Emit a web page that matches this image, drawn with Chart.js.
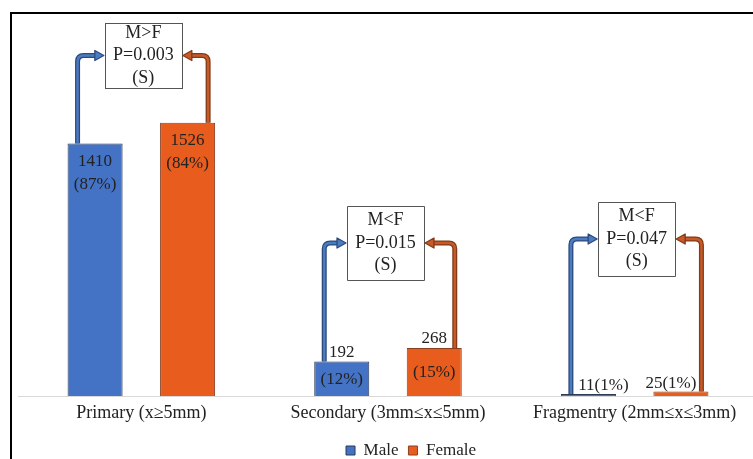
<!DOCTYPE html>
<html>
<head>
<meta charset="utf-8">
<script src="https://cdn.jsdelivr.net/npm/chart.js@4.4.1/dist/chart.umd.min.js"></script>
<style>
  html, body { margin:0; padding:0; background:#fff; overflow:hidden; }
  #wrap { width:753px; height:459px; overflow:hidden; }
</style>
</head>
<body>
<div id="wrap"><canvas id="c" width="760" height="469"></canvas></div>
<script>
// ---- data ----
const categories = ["Primary (x\u22655mm)", "Secondary (3mm\u2264x\u22645mm)", "Fragmentry (2mm\u2264x\u22643mm)"];
const maleCounts = [1410, 192, 11];
const femaleCounts = [1526, 268, 25];
const malePct = [87, 12, 1];
const femalePct = [84, 15, 1];
const compareText = ["M>F", "M<F", "M<F"];
const pValues = ["P=0.003", "P=0.015", "P=0.047"];
const sigText = ["(S)", "(S)", "(S)"];

// ---- layout / style (not data) ----
const SERIF = "'Liberation Serif', 'DejaVu Serif', serif";
const TEXT = "#222222";
const MALE_FILL = "#4472C4", MALE_EDGE = "#2B3A55";
const FEMALE_FILL = "#E85C1D", FEMALE_EDGE = "#8A4020";
const ARROW = [
  { light: "#4A7CC4", dark: "#2E4A7A" },
  { light: "#C85A28", dark: "#7F3B1A" }
];
const boxLayout = [
  { dx: 2,    top: 23,  w: 77, h: 65 },
  { dx: -2.5, top: 206, w: 77, h: 74 },
  { dx: 2,    top: 202, w: 77, h: 74 }
];
const labelMode = ["inside", "split", "combined"];
const arrowInset = [10, 7]; // male: from left edge, female: from right edge
const LEGEND_SHIFT = 23;

const overlay = {
  id: "overlay",
  afterLayout(chart) {
    if (chart.legend) {
      chart.legend.left += LEGEND_SHIFT;
      chart.legend.right += LEGEND_SHIFT;
    }
  },
  beforeDraw(chart) {
    const ctx = chart.ctx;
    ctx.save();
    ctx.fillStyle = "#fff";
    ctx.fillRect(0, 0, chart.width, chart.height);
    ctx.strokeStyle = "#000";
    ctx.lineWidth = 2;
    ctx.beginPath();
    ctx.moveTo(11, chart.height);
    ctx.lineTo(11, 13);
    ctx.lineTo(chart.width, 13);
    ctx.stroke();
    ctx.restore();
  },
  afterDatasetsDraw(chart) {
    const ctx = chart.ctx;
    const xs = chart.scales.x;
    const mMeta = chart.getDatasetMeta(0).data;
    const fMeta = chart.getDatasetMeta(1).data;
    ctx.save();
    // value labels
    ctx.fillStyle = TEXT;
    ctx.font = "17px " + SERIF;
    ctx.textAlign = "center";
    ctx.textBaseline = "middle";
    const sets = [[mMeta, maleCounts, malePct, 15], [fMeta, femaleCounts, femalePct, -10]];
    for (let i = 0; i < categories.length; i++) {
      sets.forEach(([meta, vals, pcts, cdx]) => {
        const bar = meta[i];
        const base = bar.base;
        if (labelMode[i] === "inside") {
          ctx.fillText(String(vals[i]), bar.x, bar.y + 18);
          ctx.fillText("(" + pcts[i] + "%)", bar.x, bar.y + 41);
        } else if (labelMode[i] === "split") {
          ctx.fillText(String(vals[i]), bar.x, bar.y - 9);
          ctx.fillText("(" + pcts[i] + "%)", bar.x, (bar.y + base) / 2 + 1);
        } else {
          ctx.fillText(vals[i] + "(" + pcts[i] + "%)", bar.x + cdx, bar.y - 8);
        }
      });
    }
    // boxes and arrows
    for (let i = 0; i < categories.length; i++) {
      const L = boxLayout[i];
      const cx = xs.getPixelForValue(i) + L.dx;
      const left = cx - L.w / 2, right = cx + L.w / 2;
      const cy = L.top + L.h / 2;
      ctx.fillStyle = "#fff";
      ctx.fillRect(left, L.top, L.w, L.h);
      ctx.strokeStyle = "#555";
      ctx.lineWidth = 1;
      ctx.strokeRect(Math.round(left) + 0.5, Math.round(L.top) + 0.5, L.w, L.h);
      ctx.fillStyle = TEXT;
      ctx.font = "18px " + SERIF;
      ctx.textAlign = "center";
      ctx.textBaseline = "middle";
      ctx.fillText(compareText[i], cx, cy - 22.5);
      ctx.fillText(pValues[i], cx, cy);
      ctx.fillText(sigText[i], cx, cy + 22.5);

      const mb = mMeta[i], fb = fMeta[i];
      drawArrow(ctx, mb.x - mb.width / 2 + arrowInset[0], mb.y, cy, left - 1, ARROW[0]);
      drawArrow(ctx, fb.x + fb.width / 2 - arrowInset[1], fb.y, cy, right + 1, ARROW[1]);
    }
    ctx.restore();
  }
};

function drawArrow(ctx, x0, y0, yc, xTip, col) {
  const dir = xTip > x0 ? 1 : -1;
  const r = 6, head = 8;
  const xEnd = xTip - dir * head;
  const path = () => {
    ctx.beginPath();
    ctx.moveTo(x0, y0);
    ctx.lineTo(x0, yc + r);
    ctx.quadraticCurveTo(x0, yc, x0 + dir * r, yc);
    ctx.lineTo(xEnd, yc);
  };
  ctx.lineCap = "butt";
  ctx.lineJoin = "round";
  path(); ctx.strokeStyle = col.dark; ctx.lineWidth = 5; ctx.stroke();
  path(); ctx.strokeStyle = col.light; ctx.lineWidth = 2.4; ctx.stroke();
  ctx.beginPath();
  ctx.moveTo(xTip, yc);
  ctx.lineTo(xEnd - dir * 1, yc - 5);
  ctx.lineTo(xEnd - dir * 1, yc + 5);
  ctx.closePath();
  ctx.fillStyle = col.light; ctx.fill();
  ctx.strokeStyle = col.dark; ctx.lineWidth = 1.3; ctx.stroke();
}

new Chart(document.getElementById("c"), {
  type: "bar",
  data: {
    labels: categories,
    datasets: [
      { label: "Male", data: maleCounts, backgroundColor: MALE_FILL, borderColor: MALE_EDGE, borderWidth: 1 },
      { label: "Female", data: femaleCounts, backgroundColor: FEMALE_FILL, borderColor: FEMALE_EDGE, borderWidth: 1 }
    ]
  },
  options: {
    responsive: false,
    animation: false,
    devicePixelRatio: 1,
    categoryPercentage: 0.75,
    barPercentage: 0.595,
    layout: { padding: { left: 18, right: 2, top: 20, bottom: 0 } },
    plugins: {
      legend: {
        position: "bottom",
        fullSize: false,
        labels: { font: { family: SERIF, size: 17 }, color: TEXT, boxWidth: 9, boxHeight: 9, padding: 10 }
      },
      tooltip: { enabled: false }
    },
    scales: {
      y: { display: false, min: 0, max: 2100 },
      x: {
        grid: { display: false, drawTicks: false },
        border: { display: true, color: "#D9D9D9", width: 1 },
        ticks: { font: { family: SERIF, size: 18 }, color: TEXT, padding: 6 },
        afterFit(scale) { scale.height = 36; }
      }
    }
  },
  plugins: [overlay]
});
</script>
</body>
</html>
